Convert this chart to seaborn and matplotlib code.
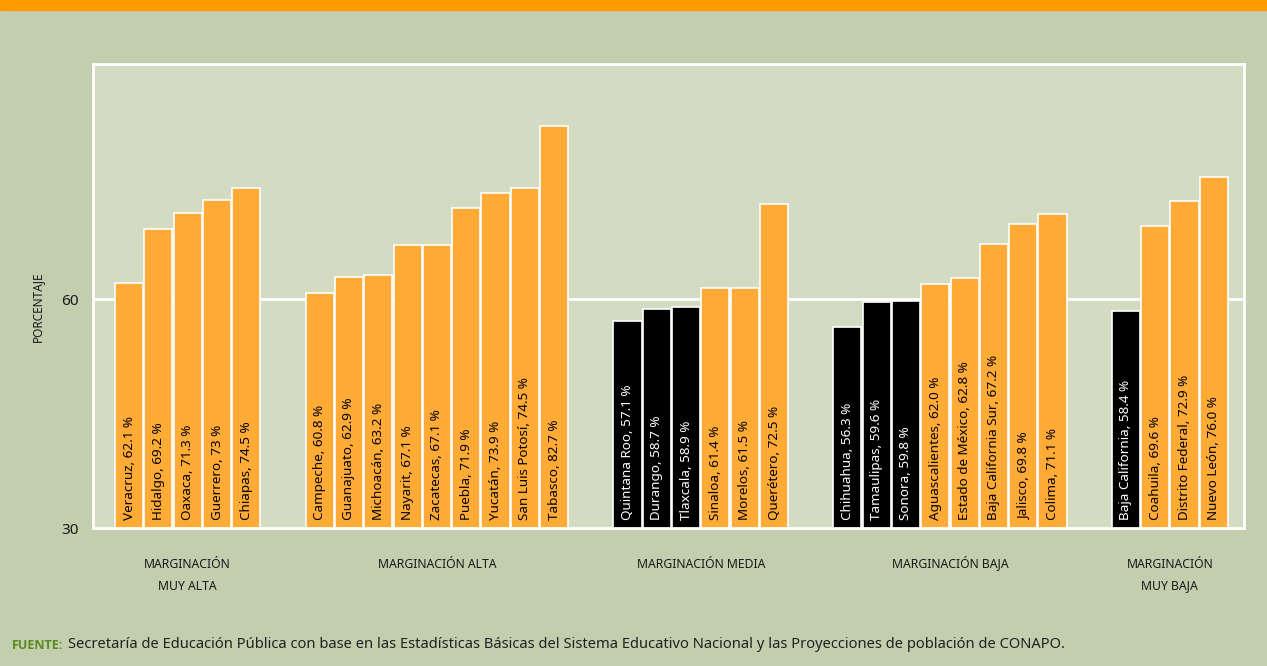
import numpy as np
import pandas as pd
import matplotlib
matplotlib.use("Agg")
import matplotlib.pyplot as plt
from matplotlib.patches import Rectangle
import seaborn as sns

# data
groups = ["MARGINACIÓN\nMUY ALTA", "MARGINACIÓN ALTA", "MARGINACIÓN MEDIA",
          "MARGINACIÓN BAJA", "MARGINACIÓN\nMUY BAJA"]
group_size = [5, 9, 6, 8, 4]

states = ["Veracruz", "Hidalgo", "Oaxaca", "Guerrero", "Chiapas",
          "Campeche", "Guanajuato", "Michoacán", "Nayarit", "Zacatecas",
          "Puebla", "Yucatán", "San Luis Potosí", "Tabasco",
          "Quintana Roo", "Durango", "Tlaxcala", "Sinaloa", "Morelos", "Querétero",
          "Chihuahua", "Tamaulipas", "Sonora", "Aguascalientes", "Estado de México",
          "Baja California Sur", "Jalisco", "Colima",
          "Baja California", "Coahuila", "Distrito Federal", "Nuevo León"]
value_text = ["62.1", "69.2", "71.3", "73", "74.5",
              "60.8", "62.9", "63.2", "67.1", "67.1", "71.9", "73.9", "74.5", "82.7",
              "57.1", "58.7", "58.9", "61.4", "61.5", "72.5",
              "56.3", "59.6", "59.8", "62.0", "62.8", "67.2", "69.8", "71.1",
              "58.4", "69.6", "72.9", "76.0"]
values = [float(v) for v in value_text]

source = "Secretaría de Educación Pública con base en las Estadísticas Básicas del Sistema Educativo Nacional y las Proyecciones de población de CONAPO."

BG = "#C2CEAD"
PANEL = "#D3DBC2"
ORANGE = "#FFAB35"

# x positions: one slot per bar, 2.5 slots between groups
pos = []
group_center = []
start = 0.0
for n in group_size:
    p = [start + i for i in range(n)]
    pos += p
    group_center.append((p[0] + p[-1]) / 2)
    start = p[-1] + 2.5

df = pd.DataFrame({"pos": pos, "value": values, "state": states})
df["kind"] = np.where(df["value"] < 60, "low", "high")

sns.set_style("white")
plt.rcParams["font.family"] = ["Noto Sans", "DejaVu Sans"]

fig = plt.figure(figsize=(12.67, 6.66), dpi=100, facecolor=BG)
ax = fig.add_axes([93 / 1267, 1 - 528 / 666, (1244 - 93) / 1267, (528 - 64) / 666])
ax.set_facecolor(PANEL)

ax.axhline(60, color="white", lw=2, zorder=0.5)
sns.barplot(data=df, x="pos", y="value", hue="kind", native_scale=True,
            palette={"low": "black", "high": ORANGE}, saturation=1, width=0.96,
            dodge=False, errorbar=None, legend=False, edgecolor="white",
            linewidth=1.2, ax=ax, zorder=2)

ax.set_xlim(-1.23, 38.03)
ax.set_ylim(30, 90.8)
ax.set_yticks([30, 60])
ax.set_xticks([])
ax.tick_params(axis="y", length=0, labelsize=11, pad=10, labelcolor="#1a1a1a")
ax.set_xlabel("")
ax.set_ylabel("")
for s in ax.spines.values():
    s.set_color("white")
    s.set_linewidth(2)
    s.set_visible(True)

for p, st, vt, v in zip(pos, states, value_text, values):
    ax.annotate(f"{st}, {vt} %", xy=(p, 30), xytext=(0, 6), textcoords="offset points",
                rotation=90, ha="center", va="bottom", fontsize=9.7,
                color="white" if v < 60 else "black", zorder=3)

# group names under the axis, one text per line so baselines line up
for c, g in zip(group_center, groups):
    for k, line in enumerate(g.split("\n")):
        ax.annotate(line, xy=(c, 0), xycoords=ax.get_xaxis_transform(),
                    xytext=(0, -(39.5 + 22 * k) * 0.72), textcoords="offset points",
                    ha="center", va="baseline", fontsize=8.8, color="#1a1a1a",
                    annotation_clip=False)

fig.text(37 / 1267, 1 - 307 / 666, "PORCENTAJE", rotation=90, ha="center", va="center",
         fontsize=8.5, color="#1a1a1a")

fig.patches.append(Rectangle((0, 1 - 10 / 666), 1, 10 / 666, transform=fig.transFigure,
                             color="#FF9A00", zorder=0))

t1 = fig.text(12 / 1267, 1 - 649 / 666, "FUENTE:", fontsize=9, weight="bold",
              family=["Open Sans", "DejaVu Sans"], color="#5C8A1E", va="baseline")
ax.annotate(source, xy=(1, 0), xycoords=t1, xytext=(3, 0), textcoords="offset points",
            fontsize=10.6, color="#222222", va="bottom", annotation_clip=False)

fig.savefig("out.png", dpi=100, facecolor=BG)
